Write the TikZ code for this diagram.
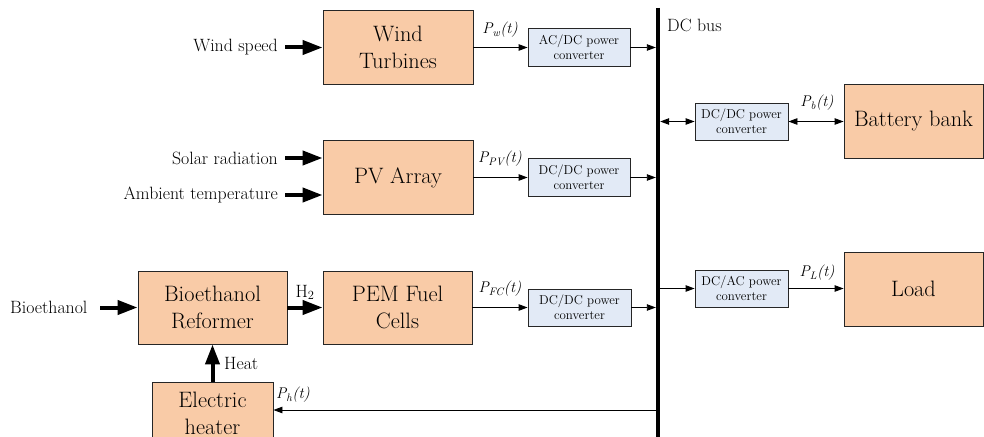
\documentclass[tikz,border=0pt]{standalone}
\usepackage{fontspec}
\usetikzlibrary{arrows.meta}
\definecolor{boxorange}{RGB}{249,203,167}
\definecolor{convblue}{RGB}{226,234,246}
\begin{document}
\begin{tikzpicture}[x=1pt,y=-1pt,
 big/.style={draw=black!85, line width=0.9pt, fill=boxorange, inner sep=0pt, align=center, font=\rmfamily\fontsize{22.3}{27}\selectfont},
 conv/.style={draw=black!85, line width=0.9pt, fill=convblue, inner sep=0pt, align=center, font=\rmfamily\fontsize{12.9}{15}\selectfont},
 lbl/.style={font=\rmfamily\fontsize{17.8}{20}\selectfont, inner sep=0pt},
 plbl/.style={font=\rmfamily\fontsize{15.5}{18}\selectfont\itshape, inner sep=0pt},
 fat/.style={line width=4pt, -{Triangle[length=20pt,width=14pt]}},
 thin/.style={line width=0.9pt, -{Triangle[length=9pt,width=6.5pt]}},
 both/.style={line width=0.9pt, {Triangle[length=9pt,width=6.5pt]}-{Triangle[length=9pt,width=6.5pt]}},
]
\clip (0,0) rectangle (984,436);
\fill[white] (0,0) rectangle (984,436);

% main boxes
\node[big, minimum width=150pt, minimum height=74pt] (wt) at (398,47.5) {Wind\\Turbines};
\node[big, minimum width=150pt, minimum height=74pt] (pv) at (398,177.5) {PV Array};
\node[big, minimum width=149pt, minimum height=73pt] (fc) at (397.5,307.5) {PEM Fuel\\Cells};
\node[big, minimum width=149pt, minimum height=73pt] (ref) at (212.5,307.5) {Bioethanol\\Reformer};
\node[big, minimum width=121pt, minimum height=63pt] (heat) at (212.5,413.5) {Electric\\heater};
\node[big, minimum width=139pt, minimum height=74pt] (bat) at (913.5,121) {Battery bank};
\node[big, minimum width=139pt, minimum height=74pt] (load) at (913.5,289) {Load};

% converters
\node[conv, minimum width=102pt, minimum height=38pt] (ac) at (579,47.5) {AC/DC power\\converter};
\node[conv, minimum width=102pt, minimum height=38pt] (pvc) at (579,177.5) {DC/DC power\\converter};
\node[conv, minimum width=103pt, minimum height=37pt] (fcc) at (579.5,307.5) {DC/DC power\\converter};
\node[conv, minimum width=93pt, minimum height=37pt] (batc) at (741.5,121.5) {DC/DC power\\converter};
\node[conv, minimum width=93pt, minimum height=37pt] (loadc) at (741.5,288.5) {DC/AC power\\converter};

% DC bus
\coordinate (bt) at (658,8);
\coordinate (bb) at (658,440);
\draw[line width=4.5pt] (bt) -- (bb);
\node[lbl, anchor=west] (dcbus) at (667,25) {DC bus};

% inputs
\node[lbl, anchor=east] (ws) at (278,47.5) {Wind speed};
\node[lbl, anchor=east] (sr) at (278,158) {Solar radiation};
\node[lbl, anchor=east] (amb) at (278,195) {Ambient temperature};
\node[lbl, anchor=west] (bio) at (10,307.5) {Bioethanol};
\draw[fat] ([xshift=7pt]ws.east) -- (ws.east -| wt.west);
\draw[fat] ([xshift=7pt]sr.east) -- (sr.east -| pv.west);
\draw[fat] ([xshift=7pt]amb.east) -- (amb.east -| pv.west);
\draw[fat] (100,307.5) -- (bio.east -| ref.west);
\draw[fat] (ref.east) -- (fc.west);
\node[lbl, anchor=south] (h2) at (305,300) {H\textsubscript{2}};
\draw[fat] (heat.north) -- (ref.south);
\node[lbl, anchor=west] (heatlbl) at (224,363) {Heat};

% power flows
\draw[thin] (wt.east) -- (ac.west);
\draw[thin, shorten >=2.2pt] (ac.east) -- (ac.east -| bt);
\draw[thin] (pv.east) -- (pvc.west);
\draw[thin, shorten >=2.2pt] (pvc.east) -- (pvc.east -| bt);
\draw[thin] (fc.east) -- (fcc.west);
\draw[thin, shorten >=2.2pt] (fcc.east) -- (fcc.east -| bt);
\draw[both, shorten <=2.2pt] (batc.west -| bt) -- (batc.west);
\draw[both] (batc.east) -- (batc.east -| bat.west);
\draw[thin, shorten <=2.2pt] (loadc.west -| bt) -- (loadc.west);
\draw[thin] (loadc.east) -- (loadc.east -| load.west);
\coordinate (hp) at (658,410);
\draw[thin, shorten <=2.2pt] (hp) -- (hp -| heat.east);

% power labels
\node[plbl] (pw) at (500,30) {P\textsubscript{w}(t)};
\node[plbl] (ppv) at (500,159) {P\textsubscript{PV}(t)};
\node[plbl] (pfc) at (500,289) {P\textsubscript{FC}(t)};
\node[plbl] (pb) at (817,103) {P\textsubscript{b}(t)};
\node[plbl] (pl) at (817,273) {P\textsubscript{L}(t)};
\node[plbl] (ph) at (293,395) {P\textsubscript{h}(t)};
\end{tikzpicture}
\end{document}
